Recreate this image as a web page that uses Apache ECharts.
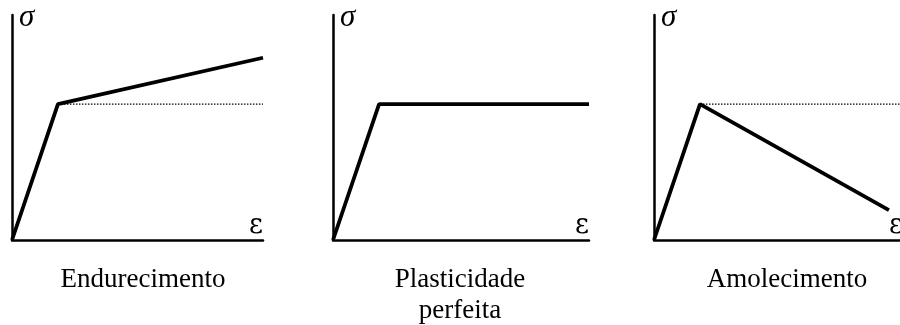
<!DOCTYPE html>
<html>
<head>
<meta charset="utf-8">
<script src="https://cdn.jsdelivr.net/npm/echarts@6/dist/echarts.min.js"></script>
<style>html,body{margin:0;padding:0;background:#fff}#c{width:900px;height:325px}</style>
</head>
<body>
<div id="c"></div>
<script>
// Panel titles
const panelTitles = ['Endurecimento', 'Plasticidade\nperfeita', 'Amolecimento'];
const stressLabel = 'σ';
const strainLabel = 'ε';
// Axis ranges (arbitrary units)
const strainMax = 100;
const stressMax = 100;
// Curves: [strain, stress]
const hardening = [[0, 0], [18.3, 60.4], [100, 81]];
const perfect = [[0, 0], [18, 60.4], [100, 60.4]];
const softening = [[0, 0], [18.7, 60.4], [95.5, 13.3]];
// Dotted yield-stress reference lines
const hardeningRef = [[18.3, 60.4], [100, 60.4]];
const softeningRef = [[18.7, 60.4], [100, 60.4]];

const grids = [
  {left: 12, top: 15, width: 251, height: 225, outerBoundsMode: 'none'},
  {left: 333, top: 15, width: 256, height: 225, outerBoundsMode: 'none'},
  {left: 654, top: 15, width: 246, height: 225, outerBoundsMode: 'none'}
];
const titleCenters = [143, 460, 787];
const strainNameGaps = [0, 0, 3];
const serif = '"Liberation Serif", "DejaVu Serif", serif';

function xAx(i) {
  return {
    type: 'value', gridIndex: i, min: 0, max: strainMax,
    axisLine: {show: true, onZero: false, lineStyle: {color: '#000', width: 2.5}},
    axisTick: {show: false}, axisLabel: {show: false}, splitLine: {show: false},
    name: strainLabel, nameLocation: 'end', nameGap: strainNameGaps[i],
    nameTextStyle: {fontFamily: '"DejaVu Serif", serif', fontSize: 27, color: '#000', align: 'right', verticalAlign: 'bottom', padding: [0, 0, 1, 0]}
  };
}
function yAx(i) {
  return {
    type: 'value', gridIndex: i, min: 0, max: stressMax,
    axisLine: {show: true, onZero: false, lineStyle: {color: '#000', width: 2.5}},
    axisTick: {show: false}, axisLabel: {show: false}, splitLine: {show: false},
    name: stressLabel, nameLocation: 'end', nameGap: -3,
    nameTextStyle: {fontFamily: serif, fontStyle: 'italic', fontSize: 31, color: '#000', align: 'left', verticalAlign: 'middle', padding: [0, 0, 0, 7]}
  };
}
function curve(i, data) {
  return {type: 'line', xAxisIndex: i, yAxisIndex: i, data: data, symbol: 'none',
    lineStyle: {color: '#000', width: 3.8}, z: 3, animation: false};
}
function ref(i, data) {
  return {type: 'line', xAxisIndex: i, yAxisIndex: i, data: data, symbol: 'none',
    lineStyle: {color: '#000', width: 1.2, type: [1.5, 1.5]}, z: 2, animation: false};
}

const chart = echarts.init(document.getElementById('c'), null, {renderer: 'canvas'});
chart.setOption({
  backgroundColor: '#fff',
  animation: false,
  title: panelTitles.map((t, i) => ({
    text: t, left: titleCenters[i], top: 264, textAlign: 'center', padding: 0,
    textStyle: {fontFamily: serif, fontWeight: 'normal', fontSize: 27, color: '#000', lineHeight: 31}
  })),
  grid: grids,
  xAxis: [xAx(0), xAx(1), xAx(2)],
  yAxis: [yAx(0), yAx(1), yAx(2)],
  series: [
    ref(0, hardeningRef), curve(0, hardening),
    curve(1, perfect),
    ref(2, softeningRef), curve(2, softening)
  ]
});
</script>
</body>
</html>
